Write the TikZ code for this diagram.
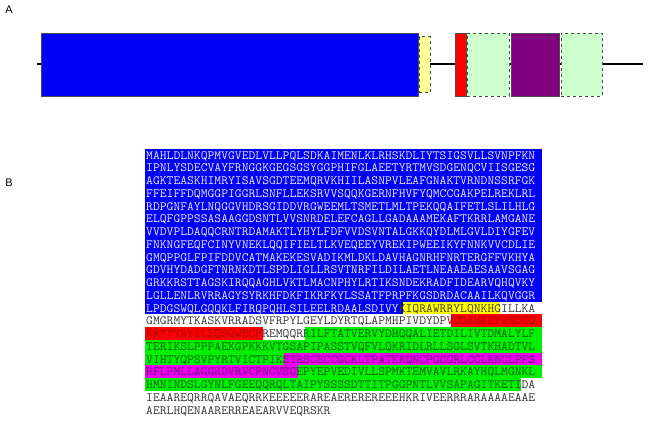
\documentclass[tikz,border=0pt]{standalone}
\usepackage{fontspec}
\usepackage{graphicx}
\setmainfont{Liberation Sans}
\definecolor{sblue}{HTML}{0000F5}
\definecolor{syel}{HTML}{FFFF00}
\definecolor{sred}{HTML}{FF0000}
\definecolor{sgreen}{HTML}{00F000}
\definecolor{smag}{HTML}{F000F0}
\definecolor{tyel}{HTML}{404000}
\definecolor{tred}{HTML}{A00000}
\definecolor{tgreen}{HTML}{006000}
\definecolor{tmag}{HTML}{700080}
\definecolor{tgray}{HTML}{333333}
\definecolor{tblue}{HTML}{E8E8FF}
\definecolor{lyel}{HTML}{FFFF99}
\definecolor{lgreen}{HTML}{CCFFCC}
\definecolor{dpurple}{HTML}{800080}
\newcommand{\seg}[4]{\fill[#4] ({145+#2*6.96},{148.6+(#1-1)*12.75}) rectangle ({145+#3*6.96},{148.6+#1*12.75});}
\newcommand{\sq}[1]{\scalebox{1.052}[1]{#1}}
\tikzset{
  seqtxt/.style={anchor=base west, inner sep=0pt, font=\ttfamily\fontsize{12.6}{13}\selectfont},
  lbl/.style={font=\fontsize{11}{12}\selectfont, inner sep=0pt},
  dom/.style={draw=black!70, line width=0.6pt, inner sep=0pt},
  domd/.style={draw=black!70, line width=0.6pt, dashed, inner sep=0pt}
}
\begin{document}
\begin{tikzpicture}[x=1pt,y=-1pt]
\useasboundingbox (0,0) rectangle (661,421);
% Panel A
\node[lbl] (labA) at (9,10) {A};
\coordinate (s) at (37,64);
\coordinate (e) at (643,64);
\draw[line width=1.8pt] (s) -- (e);
\node[dom, fill=sblue, minimum width=377pt, minimum height=63pt] (d1) at (229.5,64.5) {};
\node[domd, fill=lyel, minimum width=11pt, minimum height=56pt] (d2) at (424.5,64.5) {};
\node[dom, fill=sred, minimum width=11pt, minimum height=63pt] (d3) at (460.5,64.5) {};
\node[domd, fill=lgreen, minimum width=42pt, minimum height=63pt] (d4) at (488,64.5) {};
\node[dom, fill=dpurple, minimum width=48pt, minimum height=63pt] (d5) at (535,64.5) {};
\node[domd, fill=lgreen, minimum width=41pt, minimum height=63pt] (d6) at (581.5,64.5) {};
% Panel B
\node[lbl] (labB) at (9,183) {B};
\fill[sblue] (145,148.6) rectangle ({145+57*6.96},{148.6+12*12.75});
\seg{13}{0}{37}{sblue}
\seg{13}{37}{51}{syel}
\seg{14}{44}{57}{sred}
\seg{15}{0}{17}{sred}
\seg{15}{23}{57}{sgreen}
\seg{16}{0}{57}{sgreen}
\seg{17}{0}{20}{sgreen}
\seg{17}{20}{57}{smag}
\seg{18}{0}{22}{smag}
\seg{18}{22}{57}{sgreen}
\seg{19}{0}{54}{sgreen}
\foreach \i/\t in {
 1/MAHLDLNKQPMVGVEDLVLLPQLSDKAIMENLKLRHSKDLIYTSIGSVLLSVNPFKN,
 2/IPNLYSDECVAYFRNGGKGEGSGSYGGPHIFGLAEETYRTMVSDGENQCVIISGESG,
 3/AGKTEASKHIMRYISAVSGDTEEMQRVKHIILASNPVLEAFGNAKTVRNDNSSRFGK,
 4/FFEIFFDQMGGPIGGRLSNFLLEKSRVVSQQKGERNFHVFYQMCCGAKPELREKLRL,
 5/RDPGNFAYLNQGGVHDRSGIDDVRGWEEMLTSMETLMLTPEKQQAIFETLSLILHLG,
 6/ELQFGPPSSASAAGGDSNTLVVSNRDELEFCAGLLGADAAAMEKAFTKRRLAMGANE,
 7/VVDVPLDAQQCRNTRDAMAKTLYHYLFDFVVDSVNTALGKKQYDLMLGVLDIYGFEV,
 8/FNKNGFEQFCINYVNEKLQQIFIELTLKVEQEEYVREKIPWEEIKYFNNKVVCDLIE,
 9/GMQPPGLFPIFDDVCATMAKEKESVADIKMLDKLDAVHAGNRHFNRTERGFFVKHYA,
 10/GDVHYDADGFTNRNKDTLSPDLIGLLRSVTNRFILDILAETLNEAAEAESAAVSGAG,
 11/GRKKRSTTAGSKIRQQAGHLVKTLMACNPHYLRTIKSNDEKRADFIDEARVQHQVKY,
 12/LGLLENLRVRRAGYSYRKHFDKFIKRFKYLSSATFPRPFKGSDRDACAAILKQVGGR}
 {\node[seqtxt, text=tblue] (l\i) at (146,{159+(\i-1)*12.75}) {\sq{\t}};}
\node[seqtxt] (l13) at (146,{159+12*12.75}) {\sq{\textcolor{tblue}{LPDGSWQLGQQKLFIRQPQHLSILEELRDAALSDIVY}\textcolor{tyel}{KIQRAWRRYLQNKH}\textcolor{tgray}{GILLKA}}};
\node[seqtxt] (l14) at (146,{159+13*12.75}) {\sq{\textcolor{tgray}{GMGRMYTKASKVRRADSVFRPYLGEYLDYRTQLAPMHPIVDYDP}\textcolor{tred}{VCGAWKEYWSDCG}}};
\node[seqtxt] (l15) at (146,{159+14*12.75}) {\sq{\textcolor{tred}{KKYYYNYILEQSQWECP}\textcolor{tgray}{REMQQR}\textcolor{tgreen}{RILFTATVERVYDHQQALIETDILIVTDMALYLF}}};
\node[seqtxt] (l16) at (146,{159+15*12.75}) {\sq{\textcolor{tgreen}{TERIKSLPPPAEKGPKKKVTGSAPIPASSTVQFVLQKRIDLRLLSGLSVTKHADTVL}}};
\node[seqtxt] (l17) at (146,{159+16*12.75}) {\sq{\textcolor{tgreen}{VIHTYQPSVPYRTVICTPIK}\textcolor{tmag}{STRSCECCGCKLTPATKKQNCPGCGRLCCLKNCLPFS}}};
\node[seqtxt] (l18) at (146,{159+17*12.75}) {\sq{\textcolor{tmag}{RFLPMLLAGGKDVRVCPNCVSG}\textcolor{tgreen}{EPYEPVEDIVLLSPMKTEMVAVLRKAYHQLMGNKL}}};
\node[seqtxt] (l19) at (146,{159+18*12.75}) {\sq{\textcolor{tgreen}{HMNINDSLGYNLFGEEQQRQLTAIPYSSSSDTTITPGGPNTLVVSAPAGITKET}\textcolor{tgray}{IDA}}};
\node[seqtxt, text=tgray] (l20) at (146,{159+19*12.75}) {\sq{IEAAREQRRQAVAEQRRKEEEEERAREAEREREREEEHKRIVEERRRARAAAAEAAE}};
\node[seqtxt, text=tgray] (l21) at (146,{159+20*12.75}) {\sq{AERLHQENAARERREAEARVVEQRSKR}};
\end{tikzpicture}
\end{document}
